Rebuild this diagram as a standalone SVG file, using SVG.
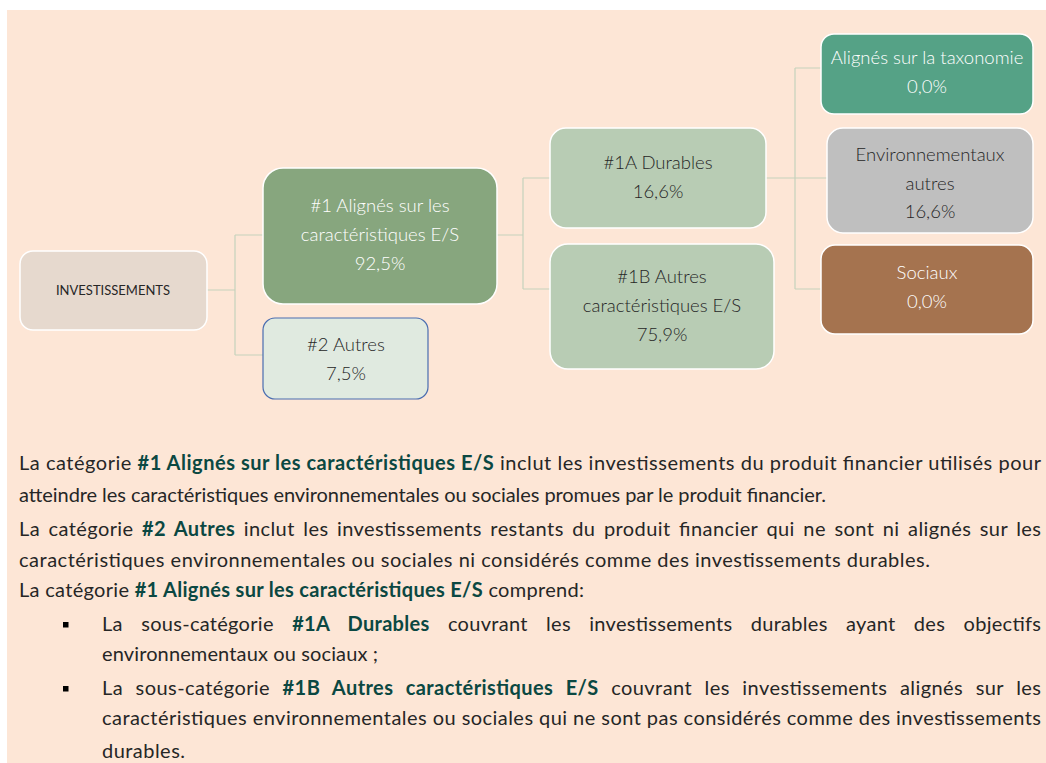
<svg xmlns="http://www.w3.org/2000/svg" width="1046" height="763" viewBox="0 0 1046 763">
<style>
.node rect{stroke:#ffffff;stroke-width:1.5}
.nt{font-family:Lato,"Liberation Sans",sans-serif;font-weight:300;font-size:18.5px;text-anchor:middle}
.w{fill:#ffffff}
.d{fill:#262626}
.conn{fill:none;stroke:#C5D2BC;stroke-width:1.2}
.p{font-family:Lato,"Liberation Sans",sans-serif;font-size:20px;fill:#262626}
.b{font-weight:700;fill:#0B4842}
</style>
<rect x="0" y="0" width="1046" height="763" fill="#ffffff"/>
<rect x="7" y="10" width="1039" height="753" fill="#FDE6D6"/>
<g id="connectors" class="conn">
<path d="M207,290 H235 M235,235 V355 M235,235 H263 M235,355 H263"/>
<path d="M497,235 H523 M523,178 V289 M523,178 H550 M523,289 H550"/>
<path d="M766,178 H795 M795,68 V289 M795,68 H821 M795,178 H827 M795,289 H821"/>
</g>
<g id="investissements" class="node">
<rect x="20" y="251" width="187" height="79" rx="13" fill="#E6D9CE"/>
<text x="113" y="295" class="nt d" style="font-size:13px;font-weight:400">INVESTISSEMENTS</text>
</g>
<g id="n1" class="node">
<rect x="263" y="168" width="234" height="136" rx="20" fill="#87A67E"/>
<text class="nt w"><tspan x="380" y="212">#1 Alignés sur les</tspan><tspan x="380" y="241">caractéristiques E/S</tspan><tspan x="380" y="270">92,5%</tspan></text>
</g>
<g id="n2" class="node">
<rect x="263" y="318" width="165" height="81" rx="12" fill="#E0EAE0" style="stroke:#4A6DB0;stroke-width:1.2"/>
<text class="nt d"><tspan x="346" y="351">#2 Autres</tspan><tspan x="346" y="380">7,5%</tspan></text>
</g>
<g id="n1a" class="node">
<rect x="550" y="128" width="216" height="100" rx="16" fill="#B8CCB4"/>
<text class="nt d"><tspan x="658" y="169">#1A Durables</tspan><tspan x="658" y="198">16,6%</tspan></text>
</g>
<g id="n1b" class="node">
<rect x="550" y="244" width="224" height="125" rx="18" fill="#B8CCB4"/>
<text class="nt d"><tspan x="662" y="283">#1B Autres</tspan><tspan x="662" y="312">caractéristiques E/S</tspan><tspan x="662" y="341">75,9%</tspan></text>
</g>
<g id="taxonomie" class="node">
<rect x="821" y="34" width="212" height="80" rx="13" fill="#55A286"/>
<text class="nt w"><tspan x="927" y="64">Alignés sur la taxonomie</tspan><tspan x="927" y="93">0,0%</tspan></text>
</g>
<g id="envautres" class="node">
<rect x="827" y="128" width="206" height="105" rx="16" fill="#BFBFBF"/>
<text class="nt d"><tspan x="930" y="161">Environnementaux</tspan><tspan x="930" y="190">autres</tspan><tspan x="930" y="218">16,6%</tspan></text>
</g>
<g id="sociaux" class="node">
<rect x="821" y="245" width="212" height="89" rx="14" fill="#A5734F"/>
<text class="nt w"><tspan x="927" y="279">Sociaux</tspan><tspan x="927" y="308">0,0%</tspan></text>
</g>
<g id="paragraph">
<text class="p" x="19" y="470" textLength="1022" lengthAdjust="spacing">La catégorie <tspan class="b">#1 Alignés sur les caractéristiques E/S</tspan> inclut les investissements du produit financier utilisés pour</text>
<text class="p" x="19" y="502" textLength="807" lengthAdjust="spacing">atteindre les caractéristiques environnementales ou sociales promues par le produit financier.</text>
<text class="p" x="19" y="536" textLength="1022" lengthAdjust="spacing" style="word-spacing:3px">La catégorie <tspan class="b">#2 Autres</tspan> inclut les investissements restants du produit financier qui ne sont ni alignés sur les</text>
<text class="p" x="19" y="567" textLength="911" lengthAdjust="spacing">caractéristiques environnementales ou sociales ni considérés comme des investissements durables.</text>
<text class="p" x="19" y="597" textLength="565" lengthAdjust="spacing">La catégorie <tspan class="b">#1 Alignés sur les caractéristiques E/S</tspan> comprend:</text>
<rect x="63" y="622" width="5.5" height="5.5" fill="#000000"/>
<text class="p" x="102" y="631" textLength="939" lengthAdjust="spacing" style="word-spacing:13px">La sous-catégorie <tspan class="b">#1A Durables</tspan> couvrant les investissements durables ayant des objectifs</text>
<text class="p" x="102" y="661" textLength="276" lengthAdjust="spacing">environnementaux ou sociaux ;</text>
<rect x="63" y="686" width="5.5" height="5.5" fill="#000000"/>
<text class="p" x="102" y="695" textLength="939" lengthAdjust="spacing" style="word-spacing:7px">La sous-catégorie <tspan class="b">#1B Autres caractéristiques E/S</tspan> couvrant les investissements alignés sur les</text>
<text class="p" x="102" y="725" textLength="939" lengthAdjust="spacing">caractéristiques environnementales ou sociales qui ne sont pas considérés comme des investissements</text>
<text class="p" x="102" y="758" textLength="83" lengthAdjust="spacing">durables.</text>
</g>
</svg>
